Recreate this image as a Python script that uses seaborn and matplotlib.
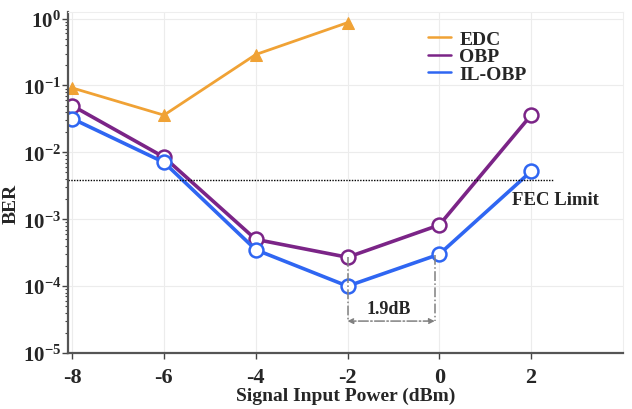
import numpy as np
import matplotlib
matplotlib.use('Agg')
import matplotlib.pyplot as plt
import seaborn as sns

sns.set_style('ticks')
plt.rcParams['font.family'] = ['Liberation Serif', 'DejaVu Serif']
plt.rcParams['font.weight'] = 'bold'
plt.rcParams['axes.unicode_minus'] = False
plt.rcParams['mathtext.fontset'] = 'custom'
plt.rcParams['mathtext.rm'] = 'Liberation Serif:bold'
plt.rcParams['mathtext.it'] = 'Liberation Serif:bold'
plt.rcParams['mathtext.bf'] = 'Liberation Serif:bold'

# data
power = [-8, -6, -4, -2, 0, 2]
edc_power = [-8, -6, -4, -2]
edc = [0.092, 0.036, 0.29, 0.87]
obp = [0.050, 0.0085, 5.0e-4, 2.7e-4, 8.2e-4, 0.036]
il_obp = [0.032, 0.0071, 3.5e-4, 1.0e-4, 3.0e-4, 0.0052]
fec_limit = 3.8e-3

c_edc = '#F0A235'
c_obp = '#7B2487'
c_il = '#2F66F2'

fig = plt.figure(figsize=(6.32, 4.10), dpi=100)
ax = fig.add_axes([0.1076, 0.1366, 0.878, 0.8314])

sns.lineplot(x=edc_power, y=edc, ax=ax, color=c_edc, lw=2, marker='^', markersize=9,
             markeredgecolor=c_edc, label='EDC')
sns.lineplot(x=power, y=obp, ax=ax, color=c_obp, lw=2.6, marker='o', markersize=10,
             markerfacecolor='white', markeredgecolor=c_obp, markeredgewidth=1.8, label='OBP')
sns.lineplot(x=power, y=il_obp, ax=ax, color=c_il, lw=2.6, marker='o', markersize=10,
             markerfacecolor='white', markeredgecolor=c_il, markeredgewidth=1.8, label='IL-OBP')

# FEC limit
ax.plot([-8.1, 2.48], [fec_limit, fec_limit], color='black', lw=1, linestyle=(0, (1, 1)))
ax.text(1.58, 2.0e-3, 'FEC Limit', fontsize=13.5, fontweight='bold', ha='left', va='center')

# 1.9 dB annotation
ax.plot([-2, -2], [obp[3], 3.0e-5], color='gray', lw=1.1, linestyle='-.')
ax.plot([-0.1, -0.1], [2.9e-4, 3.0e-5], color='gray', lw=1.1, linestyle='-.')
ax.annotate('', xy=(-2, 3.0e-5), xytext=(-0.1, 3.0e-5),
            arrowprops=dict(arrowstyle='<|-|>', color='gray', lw=1.1, linestyle='-.',
                            mutation_scale=8, shrinkA=0, shrinkB=0))
ax.text(-1.1, 4.6e-5, '1.9dB', fontsize=13, fontweight='bold', ha='center', va='center')

ax.set_yscale('log')
ax.set_xlim(-8.09, 4.0)
ax.set_ylim(1e-5, 1.25)
ax.set_xticks([-8, -6, -4, -2, 0, 2])
ax.set_yticks([1e-5, 1e-4, 1e-3, 1e-2, 1e-1, 1e0])
ax.set_yticklabels([r'$\mathbf{10^{-5}}$', r'$\mathbf{10^{-4}}$', r'$\mathbf{10^{-3}}$',
                    r'$\mathbf{10^{-2}}$', r'$\mathbf{10^{-1}}$', r'$\mathbf{10^{0}}$'])
ax.grid(True, which='major', color='#ececec', lw=0.8)
ax.tick_params(axis='x', which='major', labelsize=16, length=4, width=1, color='#444444', pad=6)
ax.tick_params(axis='y', which='major', labelsize=15, length=4, width=1, color='#444444', pad=1)
ax.tick_params(axis='y', which='minor', length=2, width=0.8, color='#444444')
ax.tick_params(axis='x', which='minor', bottom=False)

for s in ['left', 'bottom']:
    ax.spines[s].set_color('#555555')
    ax.spines[s].set_linewidth(1.6)
for s in ['top', 'right']:
    ax.spines[s].set_color('#eeeeee')
    ax.spines[s].set_linewidth(0.8)

ax.set_xlabel('Signal Input Power (dBm)', fontsize=14, fontweight='bold')
ax.set_ylabel('BER', fontsize=14, fontweight='bold')
ax.xaxis.set_label_coords(0.5, -0.1)
ax.yaxis.set_label_coords(-0.088, 0.44)

leg = ax.legend(loc='upper left', bbox_to_anchor=(0.635, 0.97), frameon=False, fontsize=14,
                handlelength=1.2, handletextpad=0.4, labelspacing=0.0, borderaxespad=0)
for h in leg.get_lines():
    h.set_marker('')
    h.set_linewidth(1.8)

plt.savefig('out.png', dpi=100)
